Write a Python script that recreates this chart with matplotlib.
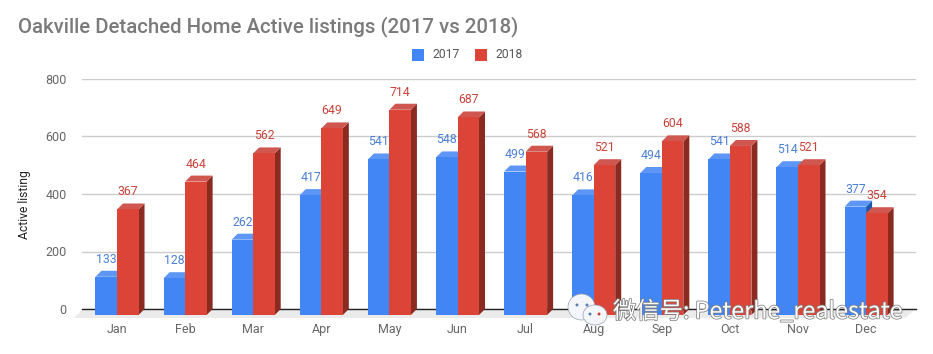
import matplotlib

matplotlib.use("Agg")
import matplotlib.pyplot as plt
import matplotlib.patheffects as pe
from matplotlib.patches import Ellipse, Polygon, Rectangle
from matplotlib.transforms import Affine2D

plt.rcParams["font.family"] = ["Roboto", "DejaVu Sans"]

# Data
months = ["Jan", "Feb", "Mar", "Apr", "May", "Jun", "Jul", "Aug", "Sep", "Oct", "Nov", "Dec"]
listings_2017 = [133, 128, 262, 417, 541, 548, 499, 416, 494, 541, 514, 377]
listings_2018 = [367, 464, 562, 649, 714, 687, 568, 521, 604, 588, 521, 354]
y_ticks = [0, 200, 400, 600, 800]

W, H = 933, 354
fig = plt.figure(figsize=(W / 100, H / 100), dpi=100)

# Axes placed in pixel coordinates (y from the top of the image)
left, right, top, bottom = 82, 916, 79, 309
ax = fig.add_axes([left / W, 1 - bottom / H, (right - left) / W, (bottom - top) / H])
ax.set_xlim((left - 117) / 68.1, (right - 117) / 68.1)
ax.set_ylim(0, 800)
for spine in ax.spines.values():
    spine.set_visible(False)

ax.set_yticks(y_ticks)
ax.set_xticks(range(len(months)))
ax.set_xticklabels(months)
ax.tick_params(axis="both", length=0, labelsize=9, labelcolor="#666666")
ax.tick_params(axis="y", pad=11)
ax.tick_params(axis="x", pad=10)
ax.grid(axis="y", color="#cccccc", linewidth=1)
ax.set_axisbelow(True)
ax.set_ylabel("Active listing", fontsize=8.7, color="#222222")
ax.yaxis.set_label_coords((31 - left) / (right - left), 0.452)

# Bar depth in pixels, front faces sit below the zero line
drop = 6
dx, dy = 6, 6
front = ax.transData + Affine2D().translate(0, -drop)
width = 0.316

# Floor and zero line
y0_px = H - bottom
fig.add_artist(
    Polygon([(left + 1, y0_px), (right, y0_px), (right - 11, y0_px - 9), (left - 8, y0_px - 9)],
            closed=True, transform=None, fc="#ebebeb", ec="none", zorder=1)
)
fig.add_artist(plt.Line2D([left, right], [y0_px, y0_px], transform=None, color="#222222", lw=1, zorder=1.5))

for i in range(len(months)):
    for offset, values, face, side, roof, z in [
        (-width, listings_2017, "#4285f4", "#1e58ad", "#5d96f4", 2),
        (0, listings_2018, "#db4437", "#8a2a20", "#cf5750", 3),
    ]:
        v = values[i]
        x0 = i + offset
        x1 = x0 + width
        p00 = front.transform((x0, v))
        p10 = front.transform((x1, v))
        p0b = front.transform((x0, 0))
        p1b = front.transform((x1, 0))
        fig.add_artist(Polygon([p10, p10 + (dx, dy), p1b + (dx, dy), p1b], closed=True, transform=None,
                               fc=side, ec="none", zorder=z))
        fig.add_artist(Polygon([p00, p10, p10 + (dx, dy), p00 + (dx, dy)], closed=True, transform=None,
                               fc=roof, ec="none", zorder=z))
        fig.add_artist(Rectangle(p0b, p1b[0] - p0b[0], p00[1] - p0b[1], transform=None,
                                 fc=face, ec="none", zorder=z + 0.1))
        # value label above the bar
        tc = "#4a7fd6" if offset < 0 else "#c9423a"
        fig.text((p00[0] + p10[0]) / 2 / W, (p00[1] + dy + 5) / H, str(v), ha="center", va="bottom",
                 fontsize=8.8, color=tc, zorder=6)

# Title and legend
fig.text(18 / W, 1 - 27 / H, "Oakville Detached Home Active listings (2017 vs 2018)",
         fontsize=14.65, color="#7a7a7a", va="center", ha="left", fontweight="medium")
fig.add_artist(Rectangle((412, H - 61), 12, 12, transform=None, fc="#4285f4", ec="none"))
fig.add_artist(Rectangle((475, H - 61), 12, 12, transform=None, fc="#db4437", ec="none"))
fig.text(432 / W, 1 - 55 / H, "2017", fontsize=8.7, color="#555555", va="center")
fig.text(495 / W, 1 - 55 / H, "2018", fontsize=8.7, color="#555555", va="center")

# WeChat watermark
for cx, cy, w, h, z in [(581.5, 307, 27, 26, 8), (595, 315, 24, 20, 8.1)]:
    fig.add_artist(Ellipse((cx, H - cy), w, h, transform=None, fc="#f4f6fb", ec="#9aa0aa", lw=0.5, zorder=z))
for cx, cy, c in [(577, 305, "#5d7fb5"), (587, 305, "#5d7fb5"), (590, 314, "#5d7fb5"), (599, 314, "#c9423a")]:
    fig.add_artist(Ellipse((cx, H - cy), 3, 3, transform=None, fc=c, ec="none", zorder=8.5))
wm = fig.text(613 / W, 1 - 312 / H, "微信号: Peterhe_realestate", fontsize=16.8, color="white",
              va="center", ha="left", family=["Noto Sans CJK SC", "DejaVu Sans"], zorder=9)
wm.set_path_effects([pe.withStroke(linewidth=1.1, foreground="#808080")])

plt.savefig("out.png", dpi=100)
